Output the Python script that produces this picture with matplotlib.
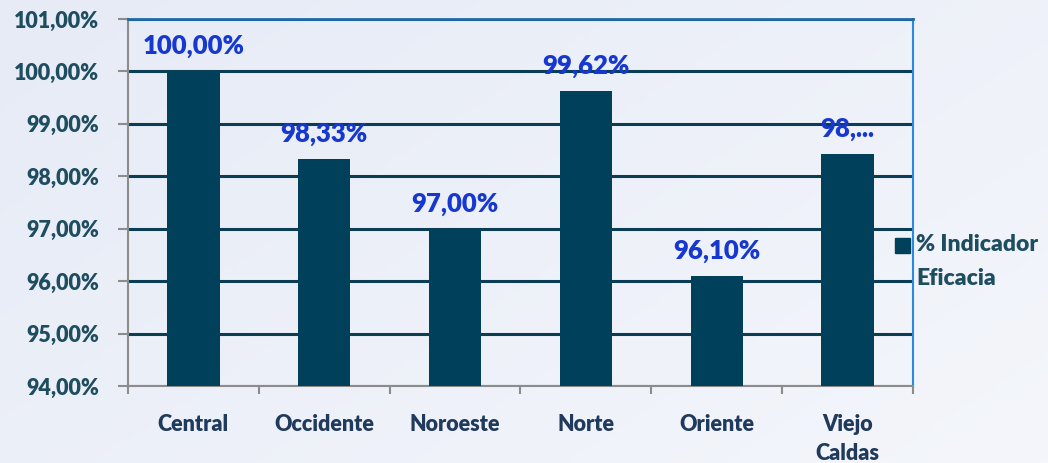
import numpy as np
import matplotlib
matplotlib.use("Agg")
from matplotlib import pyplot as plt
from matplotlib.patches import Rectangle

regions = ["Central", "Occidente", "Noroeste", "Norte", "Oriente", "Viejo\nCaldas"]
eficacia = [100.00, 98.33, 97.00, 99.62, 96.10, 98.43]
bar_labels = ["100,00%", "98,33%", "97,00%", "99,62%", "96,10%", "98,..."]
y_ticks = [94, 95, 96, 97, 98, 99, 100, 101]
legend_label = "% Indicador\nEficacia"

plt.rcParams['font.family'] = ['Lato', 'DejaVu Sans']
plt.rcParams['font.weight'] = 'heavy'

bar_color = '#00405a'
fig = plt.figure(figsize=(10.48, 4.63), dpi=100)

# soft gradient background
bg = fig.add_axes([0, 0, 1, 1], zorder=-10)
gx, gy = np.meshgrid(np.linspace(0, 1, 200), np.linspace(0, 1, 100))
grad = 0.6 * gx + 0.4 * gy
bg.imshow(grad, cmap=matplotlib.colors.LinearSegmentedColormap.from_list(
    'bgc', ['#e6ebf6', '#f4f6fb']), aspect='auto', extent=[0, 1, 0, 1])
bg.axis('off')

ax = fig.add_axes([0.1221, 0.1663, 0.7491, 0.7927])
ax.patch.set_alpha(0)
x = np.arange(len(regions))
ax.bar(x, [v - 94 for v in eficacia], bottom=94, width=0.4, color=bar_color,
       zorder=3)

for xi, v, lab in zip(x, eficacia, bar_labels):
    ax.text(xi, v + 0.25, lab, ha='center', va='bottom', color='#1638d0',
            fontsize=18.5, fontweight='heavy', zorder=4)

ax.set_xlim(-0.5, len(regions) - 0.5)
ax.set_ylim(94, 101)
ax.set_yticks(y_ticks)
ax.set_yticklabels([f"{t},00%" for t in y_ticks], color='#1e4d60', fontsize=15.5)
ax.set_xticks(x)
ax.set_xticklabels(regions, color='#1f3a5c', fontsize=15.5, linespacing=1.5)
ax.set_xticks(np.arange(-0.5, len(regions)), minor=True)
ax.tick_params(axis='x', which='major', length=0, pad=20)
ax.tick_params(axis='x', which='minor', length=6, width=1.5, color='#8c8c8c')
ax.tick_params(axis='y', length=7, width=1.5, color='#8c8c8c', pad=14)

ax.yaxis.grid(True, color='#0b3d55', linewidth=2.2, zorder=1)
ax.spines['left'].set_color('#8c8c8c')
ax.spines['left'].set_linewidth(1.5)
ax.spines['bottom'].set_color('#8c8c8c')
ax.spines['bottom'].set_linewidth(1.5)
ax.spines['top'].set_color('#1f6aa8')
ax.spines['top'].set_linewidth(2)
ax.spines['right'].set_color('#2a8ade')
ax.spines['right'].set_linewidth(1.5)

# legend drawn by hand: square beside first line of the label
fig.patches.append(Rectangle((895 / 1048, 1 - 253 / 463), 15 / 1048, 15 / 463,
                             transform=fig.transFigure, color=bar_color,
                             zorder=5))
fig.text(916 / 1048, 1 - 234 / 463, legend_label, ha='left', va='top',
         color='#1e4d60', fontsize=16.5, fontweight='heavy', linespacing=1.75)

fig.savefig('out.png', dpi=100)
